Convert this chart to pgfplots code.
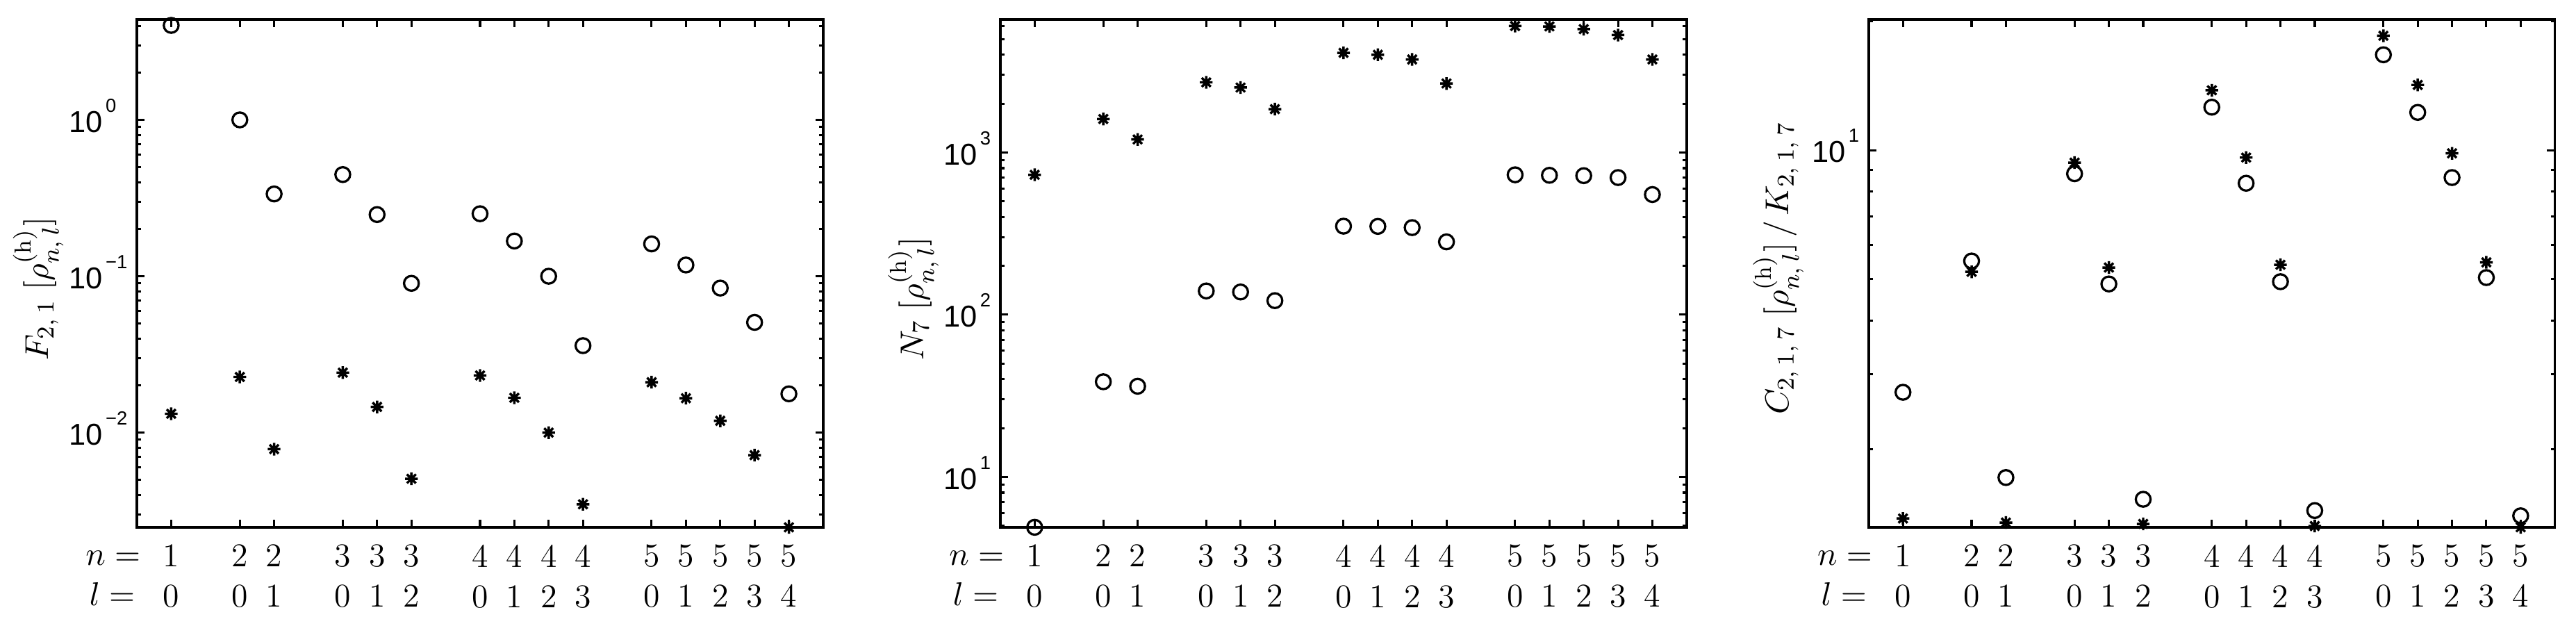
\documentclass[border=0pt]{standalone}
\usepackage{fontspec}
\setsansfont{Liberation Sans}
\usepackage{pgfplots}
\pgfplotsset{compat=1.18}

\pgfdeclareplotmark{mstar}{%
  \pgfpathmoveto{\pgfpoint{\pgfplotmarksize}{0pt}}%
  \pgfpathlineto{\pgfpoint{-\pgfplotmarksize}{0pt}}%
  \pgfpathmoveto{\pgfpoint{0pt}{\pgfplotmarksize}}%
  \pgfpathlineto{\pgfpoint{0pt}{-\pgfplotmarksize}}%
  \pgfpathmoveto{\pgfpoint{0.7071\pgfplotmarksize}{0.7071\pgfplotmarksize}}%
  \pgfpathlineto{\pgfpoint{-0.7071\pgfplotmarksize}{-0.7071\pgfplotmarksize}}%
  \pgfpathmoveto{\pgfpoint{-0.7071\pgfplotmarksize}{0.7071\pgfplotmarksize}}%
  \pgfpathlineto{\pgfpoint{0.7071\pgfplotmarksize}{-0.7071\pgfplotmarksize}}%
  \pgfusepathqstroke
}

\newcommand{\tp}[1]{10\rlap{\kern0.9pt\raisebox{6.7pt}{\fontsize{6.3}{7}\selectfont\sffamily #1}}}

\pgfplotsset{
  panelstyle/.style={
    width=7.993cm, height=5.914cm, scale only axis,
    xmin=0, xmax=20,
    xtick={1,3,4,6,7,8,10,11,12,13,15,16,17,18,19},
    xticklabels={{1\\0},{2\\0},{2\\1},{3\\0},{3\\1},{3\\2},{4\\0},{4\\1},{4\\2},{4\\3},{5\\0},{5\\1},{5\\2},{5\\3},{5\\4}},
    xticklabel style={align=center, font=\fontsize{11}{13.35}\selectfont, inner sep=0pt, anchor=north, yshift=-5.6pt},
    yticklabel style={font=\fontsize{10}{12}\selectfont\sffamily, anchor=base east, inner sep=0pt, yshift=-4.1pt},
    tick align=inside, major tick length=2.6pt, minor tick length=1.4pt,
    axis line style={line width=0.8pt},
    every tick/.append style={line width=0.7pt, black},
    clip=false,
    ylabel style={font=\fontsize{11}{13}\selectfont, inner sep=0pt, anchor=south},
  },
  circmarks/.style={only marks, mark=o, mark size=2.45pt, line width=0.75pt, black},
  starmarks/.style={only marks, mark=mstar, mark size=2.1pt, line width=0.8pt, black},
}

\newcommand{\nllabels}{%
  \node[anchor=base east, inner sep=0pt, font=\fontsize{11}{13}\selectfont] at ([yshift=-12.66pt]rel axis cs:0.006,0) {$n=$};
  \node[anchor=base east, inner sep=0pt, font=\fontsize{11}{13}\selectfont] at ([yshift=-26.0pt]rel axis cs:-0.002,0) {$l=$};
}

\begin{document}
\begin{tikzpicture}
\path[use as bounding box] (-1.594cm,-1.044cm) rectangle (28.406cm,6.140cm);

% Panel 1
\begin{semilogyaxis}[panelstyle, at={(0cm,0cm)}, anchor=south west,
  ymin=0.00248, ymax=4.39,
  ytick={0.01,0.1,1}, yticklabels={\tp{−2},\tp{−1},\tp{0}},
  yticklabel style={xshift=-11.05pt},
  minor ytick={0.003,0.004,0.005,0.006,0.007,0.008,0.009,0.02,0.03,0.04,0.05,0.06,0.07,0.08,0.09,0.2,0.3,0.4,0.5,0.6,0.7,0.8,0.9,2,3,4},
  ylabel={$F_{2,\:1}\;\big[\rho^{(\mathrm{h})}_{n,\:l}\big]$},
  ylabel style={at={(axis description cs:-0.106,0.47)}},
]
\addplot[circmarks] coordinates {(1,4.02)(3,1.0)(4,0.336)(6,0.447)(7,0.248)(8,0.0901)(10,0.251)(11,0.168)(12,0.100)(13,0.0360)(15,0.161)(16,0.118)(17,0.0840)(18,0.0507)(19,0.0177)};
\addplot[starmarks] coordinates {(1,0.0132)(3,0.0227)(4,0.00784)(6,0.0242)(7,0.0146)(8,0.00507)(10,0.0232)(11,0.0167)(12,0.0100)(13,0.00348)(15,0.0210)(16,0.0166)(17,0.0119)(18,0.00718)(19,0.00248)};
\nllabels
\end{semilogyaxis}

% Panel 2
\begin{semilogyaxis}[panelstyle, at={(10.056cm,0cm)}, anchor=south west,
  ymin=4.89, ymax=6607,
  ytick={10,100,1000}, yticklabels={\tp{1},\tp{2},\tp{3}},
  yticklabel style={xshift=-7.37pt},
  minor ytick={5,6,7,8,9,20,30,40,50,60,70,80,90,200,300,400,500,600,700,800,900,2000,3000,4000,5000,6000},
  ylabel={$N_{7}\;\big[\rho^{(\mathrm{h})}_{n,\:l}\big]$},
  ylabel style={at={(axis description cs:-0.089,0.45)}},
]
\addplot[circmarks] coordinates {(1,4.89)(3,38.6)(4,36.2)(6,140)(7,138)(8,122)(10,351)(11,350)(12,344)(13,281)(15,728)(16,723)(17,719)(18,700)(19,550)};
\addplot[starmarks] coordinates {(1,728)(3,1607)(4,1202)(6,2704)(7,2512)(8,1849)(10,4111)(11,3998)(12,3741)(13,2660)(15,6013)(16,5980)(17,5754)(18,5290)(19,3741)};
\nllabels
\end{semilogyaxis}

% Panel 3
\begin{semilogyaxis}[panelstyle, at={(20.168cm,0cm)}, anchor=south west,
  ymin=1.316, ymax=20.2,
  ytick={10}, yticklabels={\tp{1}},
  yticklabel style={xshift=-7.37pt},
  minor ytick={2,3,4,5,6,7,8,9,20},
  ylabel={$C_{2,\:1,\:7}\;\big[\rho^{(\mathrm{h})}_{n,\:l}\big]\,/\,K_{2,\:1,\:7}$},
  ylabel style={at={(axis description cs:-0.094,0.51)}},
]
\addplot[circmarks] coordinates {(1,2.72)(3,5.51)(4,1.72)(6,8.81)(7,4.87)(8,1.53)(10,12.6)(11,8.37)(12,4.93)(13,1.44)(15,16.7)(16,12.25)(17,8.63)(18,5.04)(19,1.40)};
\addplot[starmarks] coordinates {(1,1.38)(3,5.20)(4,1.35)(6,9.35)(7,5.32)(8,1.34)(10,13.8)(11,9.61)(12,5.40)(13,1.325)(15,18.5)(16,14.2)(17,9.83)(18,5.47)(19,1.316)};
\nllabels
\end{semilogyaxis}
\end{tikzpicture}
\end{document}
